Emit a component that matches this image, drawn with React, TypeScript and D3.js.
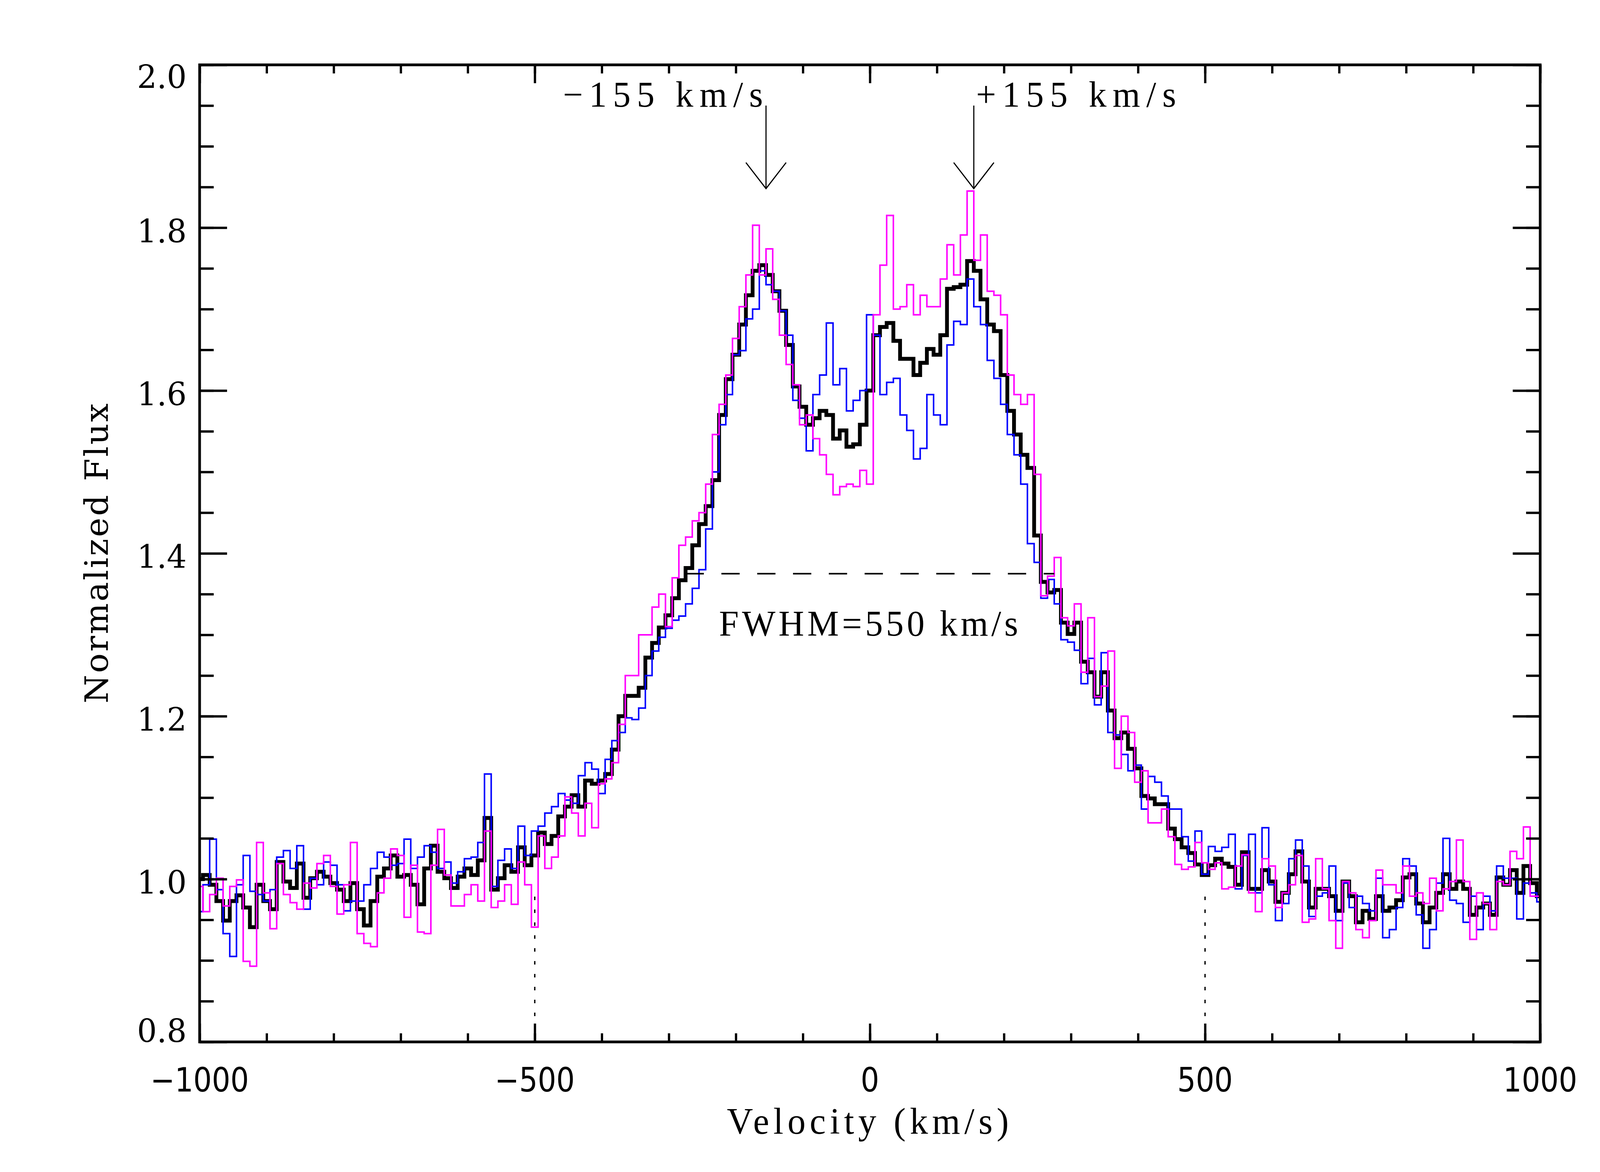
import React, { useEffect, useRef } from 'react';
import * as d3 from 'd3';

// velocity grid of the spectra (km/s)
const velocity = d3.range(-1000, 1001, 10);

// mean profile (thick black)
const meanFlux = [
  1.000, 1.005, 0.993, 0.973, 0.949, 0.973, 0.980, 0.965, 0.941, 0.993,
  0.973, 0.963, 1.021, 0.997, 0.989, 1.019, 0.977, 1.001, 1.009, 1.003,
  0.995, 0.987, 0.973, 0.995, 0.963, 0.943, 0.973, 1.003, 1.013, 1.029,
  1.003, 1.005, 0.993, 0.969, 1.013, 1.041, 1.009, 1.001, 0.989, 1.003,
  1.013, 1.005, 1.023, 1.075, 0.987, 1.001, 1.017, 1.009, 1.039, 1.017,
  1.029, 1.057, 1.043, 1.053, 1.077, 1.089, 1.103, 1.089, 1.121, 1.117,
  1.121, 1.129, 1.159, 1.200, 1.225, 1.225, 1.235, 1.272, 1.290, 1.309,
  1.324, 1.345, 1.367, 1.382, 1.410, 1.436, 1.458, 1.490, 1.570, 1.614,
  1.644, 1.681, 1.717, 1.747, 1.754, 1.742, 1.722, 1.698, 1.656, 1.605,
  1.580, 1.558, 1.566, 1.575, 1.570, 1.541, 1.551, 1.531, 1.534, 1.558,
  1.600, 1.668, 1.678, 1.683, 1.661, 1.639, 1.639, 1.619, 1.634, 1.651,
  1.644, 1.668, 1.725, 1.727, 1.730, 1.759, 1.747, 1.712, 1.681, 1.673,
  1.619, 1.575, 1.546, 1.521, 1.505, 1.422, 1.365, 1.352, 1.355, 1.315,
  1.301, 1.315, 1.267, 1.254, 1.224, 1.254, 1.207, 1.173, 1.180, 1.160,
  1.136, 1.102, 1.099, 1.092, 1.092, 1.062, 1.049, 1.039, 1.032, 1.018,
  1.005, 1.017, 1.025, 1.019, 1.015, 0.993, 1.033, 0.988, 0.988, 1.011,
  0.997, 0.972, 0.983, 1.006, 1.034, 0.997, 0.965, 0.988, 0.988, 0.979,
  0.961, 0.997, 0.979, 0.947, 0.961, 0.951, 0.979, 0.961, 0.965, 0.974,
  1.002, 1.006, 0.970, 0.947, 0.965, 0.983, 1.006, 0.988, 0.997, 0.988,
  0.956, 0.965, 0.970, 0.956, 1.002, 0.993, 1.011, 0.983, 1.016, 0.995,
  0.979,
];

// first epoch (blue)
const blueFlux = [
  0.960, 0.993, 1.049, 0.987, 0.933, 0.905, 0.993, 1.029, 0.985, 0.981,
  0.973, 0.987, 1.027, 1.035, 1.013, 1.041, 0.963, 1.001, 0.993, 1.021,
  1.017, 0.993, 0.961, 0.973, 0.973, 0.993, 1.013, 1.033, 1.027, 1.017,
  1.019, 1.049, 1.013, 1.027, 1.041, 1.033, 1.013, 1.021, 0.995, 1.009,
  1.025, 1.027, 1.045, 1.129, 0.991, 1.023, 1.037, 1.013, 1.065, 1.029,
  1.059, 1.065, 1.081, 1.089, 1.105, 1.097, 1.093, 1.127, 1.143, 1.135,
  1.105, 1.147, 1.170, 1.180, 1.198, 1.196, 1.210, 1.250, 1.280, 1.297,
  1.308, 1.318, 1.323, 1.338, 1.357, 1.380, 1.430, 1.500, 1.558, 1.595,
  1.644, 1.649, 1.688, 1.700, 1.747, 1.730, 1.722, 1.698, 1.668, 1.588,
  1.566, 1.526, 1.595, 1.619, 1.683, 1.607, 1.627, 1.575, 1.588, 1.600,
  1.693, 1.668, 1.595, 1.610, 1.615, 1.570, 1.551, 1.516, 1.529, 1.595,
  1.570, 1.558, 1.656, 1.685, 1.681, 1.737, 1.703, 1.681, 1.637, 1.615,
  1.583, 1.546, 1.521, 1.485, 1.412, 1.389, 1.345, 1.368, 1.338, 1.294,
  1.291, 1.281, 1.240, 1.271, 1.214, 1.278, 1.180, 1.177, 1.153, 1.133,
  1.140, 1.086, 1.126, 1.119, 1.102, 1.086, 1.086, 1.052, 1.022, 1.059,
  1.006, 1.040, 1.034, 1.039, 1.055, 0.988, 1.029, 1.055, 0.983, 1.063,
  0.993, 0.949, 0.970, 1.025, 1.048, 1.016, 0.954, 0.979, 0.983, 1.016,
  0.949, 0.995, 0.965, 0.979, 0.970, 0.961, 1.001, 0.928, 0.938, 0.965,
  1.025, 1.016, 0.956, 0.915, 0.938, 0.995, 1.050, 0.974, 0.970, 0.947,
  0.979, 0.938, 0.979, 0.961, 1.016, 1.001, 1.001, 0.951, 0.995, 0.983,
  0.972,
];

// second epoch (magenta)
const magentaFlux = [
  0.991, 0.960, 0.981, 1.001, 0.967, 0.991, 0.999, 0.899, 0.893, 1.045,
  0.983, 0.939, 1.019, 0.981, 0.971, 0.963, 0.995, 0.989, 1.019, 1.029,
  0.991, 0.957, 0.993, 1.045, 0.933, 0.921, 0.917, 0.983, 1.001, 1.037,
  1.029, 0.953, 1.017, 0.935, 0.933, 1.017, 1.061, 1.005, 0.967, 0.967,
  0.981, 0.993, 0.973, 1.059, 0.965, 0.973, 0.993, 0.969, 1.021, 0.993,
  0.941, 1.053, 1.013, 1.027, 1.053, 1.101, 1.081, 1.053, 1.093, 1.063,
  1.117, 1.123, 1.143, 1.190, 1.250, 1.250, 1.300, 1.300, 1.334, 1.350,
  1.310, 1.370, 1.410, 1.420, 1.440, 1.450, 1.485, 1.546, 1.583, 1.619,
  1.664, 1.703, 1.742, 1.803, 1.742, 1.774, 1.712, 1.668, 1.632, 1.607,
  1.558, 1.570, 1.541, 1.521, 1.497, 1.472, 1.482, 1.485, 1.482, 1.502,
  1.485, 1.693, 1.754, 1.815, 1.700, 1.703, 1.730, 1.693, 1.717, 1.703,
  1.703, 1.737, 1.779, 1.742, 1.791, 1.845, 1.760, 1.791, 1.722, 1.717,
  1.693, 1.619, 1.595, 1.583, 1.595, 1.497, 1.348, 1.372, 1.395, 1.321,
  1.311, 1.338, 1.254, 1.321, 1.224, 1.237, 1.280, 1.136, 1.200, 1.180,
  1.119, 1.133, 1.069, 1.069, 1.086, 1.052, 1.018, 1.012, 1.015, 1.045,
  1.020, 1.012, 1.020, 0.988, 0.990, 1.016, 1.030, 0.983, 0.960, 1.025,
  1.016, 0.965, 0.983, 0.993, 1.029, 0.947, 0.951, 1.025, 0.988, 0.949,
  0.915, 0.997, 0.983, 0.938, 0.928, 0.949, 1.011, 0.993, 0.993, 0.983,
  1.016, 0.979, 0.983, 0.970, 1.001, 0.961, 0.988, 0.997, 1.048, 0.997,
  0.926, 0.983, 0.970, 0.938, 0.997, 0.993, 1.034, 1.025, 1.064, 0.979,
  0.979,
];

// annotations
const peakVelocities = [-155, 155];
const peakLabels = ['\u2212155 km/s', '+155 km/s'];
const fwhmRange = [-275, 275];
const fwhmLevel = 1.375;
const fwhmLabel = 'FWHM=550 km/s';
const limitVelocities = [-500, 500];

const width = 4200;
const height = 3000;
const margin = { top: 166, right: 157, bottom: 333, left: 524 };

const App: React.FC = () => {
  const axesRef = useRef<SVGGElement | null>(null);

  const x = d3.scaleLinear().domain([-1000, 1000]).range([margin.left, width - margin.right]);
  const y = d3.scaleLinear().domain([0.8, 2.0]).range([height - margin.bottom, margin.top]);

  const line = d3
    .line<number>()
    .x((_, i) => x(velocity[i]))
    .y(d => y(d))
    .curve(d3.curveStep);

  useEffect(() => {
    if (!axesRef.current) return;
    const g = d3.select(axesRef.current);
    g.selectAll('*').remove();

    const xMinor = x.ticks(20);
    const xMajor = x.ticks(4);
    const yMinor = y.ticks(24);
    const yMajor = y.ticks(6);

    const add = (axis: d3.Axis<d3.NumberValue>, transform: string) => {
      g.append('g')
        .attr('transform', transform)
        .call(axis.tickFormat(() => ''))
        .call(s => s.select('.domain').remove())
        .selectAll('line')
        .attr('stroke', '#000')
        .attr('stroke-width', 6);
    };

    const bottom = `translate(0,${height - margin.bottom})`;
    const top = `translate(0,${margin.top})`;
    const left = `translate(${margin.left},0)`;
    const right = `translate(${width - margin.right},0)`;

    add(d3.axisBottom(x).tickValues(xMinor).tickSize(-22), bottom);
    add(d3.axisBottom(x).tickValues(xMajor).tickSize(-47), bottom);
    add(d3.axisTop(x).tickValues(xMinor).tickSize(-22), top);
    add(d3.axisTop(x).tickValues(xMajor).tickSize(-47), top);
    add(d3.axisLeft(y).tickValues(yMinor).tickSize(-37), left);
    add(d3.axisLeft(y).tickValues(yMajor).tickSize(-72), left);
    add(d3.axisRight(y).tickValues(yMinor).tickSize(-37), right);
    add(d3.axisRight(y).tickValues(yMajor).tickSize(-72), right);
  }, []);

  const yMajor = y.ticks(6);
  const serif = "'Liberation Serif', 'Times New Roman', serif";

  return (
    <svg
      viewBox={`0 0 ${width} ${height}`}
      preserveAspectRatio="none"
      style={{
        position: 'absolute',
        left: 0,
        top: 0,
        width: '100vw',
        height: '100vh',
        display: 'block',
        background: '#fff',
      }}
    >
      <defs>
        <clipPath id="plot-area">
          <rect
            x={margin.left}
            y={margin.top}
            width={width - margin.left - margin.right}
            height={height - margin.top - margin.bottom}
          />
        </clipPath>
      </defs>

      <g clipPath="url(#plot-area)" fill="none" strokeLinejoin="miter">
        <path d={line(meanFlux) || ''} stroke="#000" strokeWidth={10} />
        <path d={line(blueFlux) || ''} stroke="#0000ff" strokeWidth={4} />
        <path d={line(magentaFlux) || ''} stroke="#ff00ff" strokeWidth={4} />
      </g>

      {/* dotted markers at +-500 km/s */}
      {limitVelocities.map(v => (
        <line
          key={v}
          x1={x(v)}
          x2={x(v)}
          y1={y(0.8)}
          y2={y(0.99)}
          stroke="#000"
          strokeWidth={3.5}
          strokeDasharray="9 24"
        />
      ))}

      {/* FWHM */}
      <line
        x1={x(fwhmRange[0])}
        x2={x(fwhmRange[1])}
        y1={y(fwhmLevel)}
        y2={y(fwhmLevel)}
        stroke="#000"
        strokeWidth={4}
        strokeDasharray="48 46"
      />
      <text
        x={x(-225)}
        y={y(1.299)}
        fontFamily={serif}
        fontSize={93}
        textLength={785}
        lengthAdjust="spacing"
      >
        {fwhmLabel}
      </text>

      {/* peak arrows */}
      {peakVelocities.map((v, i) => (
        <g key={v} stroke="#000" strokeWidth={3} fill="none">
          <line x1={x(v)} x2={x(v)} y1={y(1.95)} y2={y(1.848)} />
          <path d={`M${x(v - 30)},${y(1.88)}L${x(v)},${y(1.848)}L${x(v + 30)},${y(1.88)}`} />
          <text
            x={i === 0 ? x(v) - 8 : x(v) + 6}
            y={y(1.9487)}
            textAnchor={i === 0 ? 'end' : 'start'}
            fontFamily={serif}
            fontSize={93}
            fill="#000"
            stroke="none"
            textLength={525}
            lengthAdjust="spacing"
          >
            {peakLabels[i]}
          </text>
        </g>
      ))}

      <g ref={axesRef} />
      <rect
        x={margin.left}
        y={margin.top}
        width={width - margin.left - margin.right}
        height={height - margin.top - margin.bottom}
        fill="none"
        stroke="#000"
        strokeWidth={7}
      />

      {/* x tick labels */}
      {x.ticks(4).map(t => (
        <text
          key={t}
          x={x(t)}
          y={2794}
          textAnchor="middle"
          fontFamily="'DejaVu Sans Condensed', 'DejaVu Sans', sans-serif"
          fontStretch="condensed"
          fontSize={85}
        >
          {d3.format('d')(t)}
        </text>
      ))}

      {/* y tick labels */}
      {yMajor.map((t, i) => {
        const shift = i === 0 ? 1 : i === yMajor.length - 1 ? 60 : 38;
        return (
          <text
            key={t}
            x={490}
            y={y(t) + shift}
            textAnchor="end"
            fontFamily="'DejaVu Serif', serif"
            fontSize={82}
          >
            {d3.format('.1f')(t)}
          </text>
        );
      })}

      <text
        x={2278}
        y={2902}
        textAnchor="middle"
        fontFamily={serif}
        fontSize={95}
        textLength={740}
        lengthAdjust="spacing"
      >
        Velocity (km/s)
      </text>
      <text
        transform={`translate(283,${(margin.top + height - margin.bottom) / 2}) rotate(-90)`}
        textAnchor="middle"
        fontFamily="'DejaVu Serif', serif"
        fontSize={84}
        textLength={768}
        lengthAdjust="spacing"
      >
        Normalized Flux
      </text>
    </svg>
  );
};

export default App;
